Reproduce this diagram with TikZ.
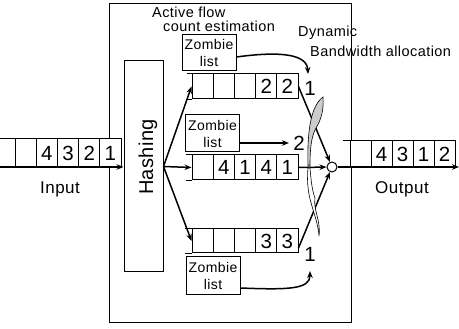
\documentclass[tikz,border=0pt]{standalone}
\usepackage{fontspec}
\setmainfont{Liberation Sans}
\usetikzlibrary{arrows.meta}
\begin{document}
\begin{tikzpicture}[x=1pt,y=-1pt,
  cell/.style={draw, line width=1pt, minimum width=21.2pt, minimum height=25pt, inner sep=0pt, fill=white, font=\fontsize{20.5}{20.5}\selectfont},
  zombie/.style={draw, line width=1pt, fill=white, inner sep=0pt, align=center, minimum width=54pt, minimum height=37pt, font=\fontsize{14}{17}\selectfont\addfontfeature{LetterSpace=3}},
  arr/.style={line width=1.5pt, -{Stealth[length=7pt,width=5.5pt]}},
  thin/.style={line width=1pt},
  lbl/.style={inner sep=0pt, font=\fontsize{14.5}{14.5}\selectfont\addfontfeature{LetterSpace=3}},
  io/.style={inner sep=0pt, font=\fontsize{17}{17}\selectfont\addfontfeature{LetterSpace=3}},
  num/.style={inner sep=0pt, font=\fontsize{20.5}{20.5}\selectfont},
  blade/.style={line width=0.6pt}
]
\useasboundingbox (0,0) rectangle (459,329);
% outer frame
\node[draw, line width=1pt, minimum width=242pt, minimum height=319pt, inner sep=0pt] (frame) at (230,163.5) {};
% hashing
\node[draw, thin, fill=white, minimum width=39pt, minimum height=211pt, inner sep=0pt] (hash) at (143.5,166.5) {};
\node[rotate=90, anchor=base, inner sep=0pt, font=\fontsize{20}{20}\selectfont\addfontfeature{LetterSpace=2}] (hashtxt) at (153,157) {Hashing};
% input queue
\foreach \v [count=\i] in {{},4,3,2,1}
  \node[cell, minimum height=28pt] (in-\i) at (4.4+21.2*\i,153) {\v};
\draw[thin] ([xshift=-15pt]in-1.north west) -- (in-1.north west);
% output queue
\foreach \v [count=\i] in {{},4,3,1,2}
  \node[cell, minimum width=21pt, minimum height=26pt] (out-\i) at (339.5+21*\i,154) {\v};
\draw[thin] ([xshift=-7pt]out-1.north west) -- (out-1.north west);
% top queue
\foreach \v [count=\i] in {{},{},{},2,2}
  \node[cell] (top-\i) at (181.4+21.2*\i,86.5) {\v};
\draw[thin] ([xshift=-5pt]top-1.north west) -- (top-1.north west);
\draw[thin] ([xshift=-5pt]top-1.south west) -- (top-1.south west);
% middle queue
\foreach \v [count=\i] in {{},4,1,4,1}
  \node[cell] (mid-\i) at (181.4+21.2*\i,167.5) {\v};
\draw[thin] ([xshift=-6pt]mid-1.north west) -- (mid-1.north west);
\draw[thin] ([xshift=-6pt]mid-1.south west) -- (mid-1.south west);
% bottom queue
\foreach \v [count=\i] in {{},{},{},3,3}
  \node[cell, minimum height=24pt] (bot-\i) at (181.4+21.2*\i,241) {\v};
\draw[thin] ([xshift=-7pt]bot-1.north west) -- (bot-1.north west);
\draw[thin] ([xshift=-7pt]bot-1.south west) -- (bot-1.south west);
% zombie lists
\node[zombie, minimum height=36pt] (zt) at (209,53) {Zombie\\list};
\node[zombie] (zm) at (212.5,133.5) {Zombie\\list};
\node[zombie, minimum height=38pt] (zb) at (213,276) {Zombie\\list};
% merge point
\node[draw, circle, thin, fill=white, minimum size=10pt, inner sep=0pt] (mrg) at (332,167) {};
% end coordinates
\coordinate (inL) at (0,167);
\coordinate (outR) at (459,167);
\coordinate (t1) at (308,74);
\coordinate (t2) at (289,143);
\coordinate (t3) at (310,271);
% connectors
\draw[arr] (inL) -- (inL -| hash.west);
\draw[arr] (hash.east) -- (top-1.west);
\draw[arr] (hash.east) -- (mid-1.west);
\draw[arr] (hash.east) -- (bot-1.west);
\draw[arr] (top-5.east) -- (mrg);
\draw[arr] (mid-5.east) -- (mrg);
\draw[arr] ([yshift=-7pt]bot-5.east) -- (mrg);
\draw[arr] (mrg) -- (outR);
\draw[arr] ([yshift=-4pt]zt.east) .. controls (280,51) and (307,54) .. (t1);
\draw[arr] ([yshift=-9.5pt]zm.east) -- (t2);
\draw[arr] ([yshift=-12pt]zb.east) .. controls (290,290) and (310,289) .. (t3);
% blades
\draw[blade, fill=gray!40] (308,166) .. controls (307,130) and (311,106) .. (323,97)
  .. controls (324,110) and (321,120) .. (316,128) .. controls (311,137) and (310,150) .. (310,166) -- cycle;
\draw[blade, fill=white] (308,168) .. controls (305,200) and (317,212) .. (319,236)
  .. controls (321,220) and (313,210) .. (315,198) .. controls (312,190) and (311,180) .. (310,168) -- cycle;
% labels
\node[num] (l1) at (310,88.5) {1};
\node[num] (l2) at (299,143.5) {2};
\node[num] (l3) at (310,254.5) {1};
\node[lbl, anchor=base west] (act) at (152,17.5) {Active flow};
\node[lbl, anchor=base west] (cnt) at (163,31.5) {count estimation};
\node[lbl, anchor=base west] (dyn) at (298,37) {Dynamic};
\node[lbl, anchor=base west] (bw) at (310,57) {Bandwidth allocation};
\node[io, anchor=base] (inp) at (60,194) {Input};
\node[io, anchor=base] (outp) at (402,194) {Output};
\end{tikzpicture}
\end{document}
